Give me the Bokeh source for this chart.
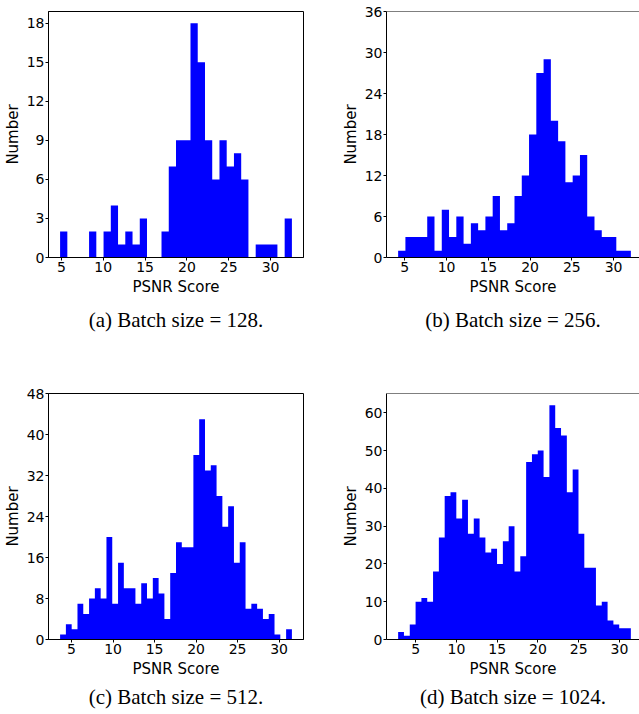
import numpy as np
from bokeh.plotting import figure
from bokeh.models import Range1d, FixedTicker, Title, Span
from bokeh.layouts import row, column
from bokeh.embed import file_html
from bokeh.resources import INLINE

# ---- data ----
a_counts = [2, 0, 0, 0, 2, 0, 2, 4, 1, 2, 1, 3, 0, 0, 2, 7, 9, 9, 18, 15,
            9, 6, 9, 7, 8, 6, 0, 1, 1, 1, 0, 3]
b_counts = [1, 3, 3, 3, 6, 1, 7, 3, 6, 2, 5, 4, 6, 9, 4, 5, 9, 12, 18, 27,
            29, 20, 17, 11, 12, 15, 6, 4, 3, 3, 1, 1]
c_counts = [1, 3, 2, 7, 5, 8, 10, 8, 20, 7, 15, 10, 10, 7, 11, 8, 12, 9, 4, 13,
            19, 18, 18, 36, 43, 33, 34, 28, 22, 26, 15, 19, 6, 7, 6, 4, 5, 1, 0, 2]
d_counts = [2, 1, 4, 10, 11, 10, 18, 27, 38, 39, 32, 37, 28, 32, 27, 23, 24, 20, 26, 30,
            18, 22, 47, 49, 50, 43, 62, 56, 54, 39, 45, 28, 19, 19, 9, 10, 5, 4, 3, 3]

# data min / max of each histogram (bin range)
a_range = (4.85, 32.55)
b_range = (4.20, 32.07)
c_range = (3.62, 31.54)
d_range = (2.86, 31.39)

x_ticks = [5, 10, 15, 20, 25, 30]
a_yticks = [0, 3, 6, 9, 12, 15, 18]
b_yticks = [0, 6, 12, 18, 24, 30, 36]
c_yticks = [0, 8, 16, 24, 32, 40, 48]
d_yticks = [0, 10, 20, 30, 40, 50, 60]
y_tops = [18.9, 36, 48, 65.1]

captions = ["(a) Batch size = 128.", "(b) Batch size = 256.",
            "(c) Batch size = 512.", "(d) Batch size = 1024."]
x_label = "PSNR Score"
y_label = "Number"


def panel(counts, rng, yticks, ytop, caption, left_col, top_row):
    n = len(counts)
    edges = np.linspace(rng[0], rng[1], n + 1)
    span = rng[1] - rng[0]
    x0 = rng[0] - 0.05 * span
    if left_col:
        x1 = rng[1] + 0.05 * span
        width, mbl, mbr = 338, 47, 35
    else:
        frame_w = 254
        ppu = 257 / (1.1 * span)
        x1 = x0 + frame_w / ppu
        width, mbl, mbr = 301, 47, 0
    if top_row:
        height, mbt, mbb = 352, 11, 95
        standoff = 15
    else:
        height, mbt, mbb = 362, 41, 75
        standoff = 5

    p = figure(width=width, height=height,
               x_range=Range1d(x0, x1), y_range=Range1d(0, ytop),
               output_backend="svg", toolbar_location=None,
               min_border_left=mbl, min_border_right=mbr,
               min_border_top=mbt, min_border_bottom=mbb,
               x_axis_label=x_label, y_axis_label=y_label)

    heights = list(counts) + [counts[-1]]
    p.varea_step(x=list(edges), y1=[0] * (n + 1), y2=heights,
                 step_mode="after", fill_color="#0000ff")

    p.xaxis.ticker = FixedTicker(ticks=x_ticks)
    p.yaxis.ticker = FixedTicker(ticks=yticks)
    for ax in (p.xaxis[0], p.yaxis[0]):
        ax.axis_line_color = "black"
        ax.axis_line_width = 1
        ax.major_tick_line_color = "black"
        ax.major_tick_out = 3
        ax.major_tick_in = 0
        ax.minor_tick_line_color = None
        ax.major_label_text_font = "DejaVu Sans"
        ax.major_label_text_font_size = "14px"
        ax.major_label_text_color = "black"
        ax.axis_label_text_font = "DejaVu Sans"
        ax.axis_label_text_font_size = "15px"
        ax.axis_label_text_font_style = "normal"
        ax.axis_label_text_color = "black"
    p.xaxis.major_label_standoff = 1
    p.xaxis.axis_label_standoff = 3
    p.yaxis.major_label_standoff = 1
    p.yaxis.axis_label_standoff = 2

    p.grid.visible = False
    p.background_fill_color = "white"
    p.border_fill_color = "white"
    if left_col:
        p.outline_line_color = "black"
        p.outline_line_width = 1
    else:
        p.outline_line_color = None
        p.add_layout(Span(location=ytop, dimension="width",
                          line_color="black", line_width=1))

    t = Title(text=caption, align="center", text_font="Liberation Serif",
              text_font_size="21px", text_font_style="normal",
              text_color="black", standoff=standoff)
    p.add_layout(t, "below")
    return p


pa = panel(a_counts, a_range, a_yticks, y_tops[0], captions[0], True, True)
pb = panel(b_counts, b_range, b_yticks, y_tops[1], captions[1], False, True)
pc = panel(c_counts, c_range, c_yticks, y_tops[2], captions[2], True, False)
pd = panel(d_counts, d_range, d_yticks, y_tops[3], captions[3], False, False)

layout = column(row(pa, pb), row(pc, pd))
open("out.html", "w").write(file_html(layout, INLINE))
